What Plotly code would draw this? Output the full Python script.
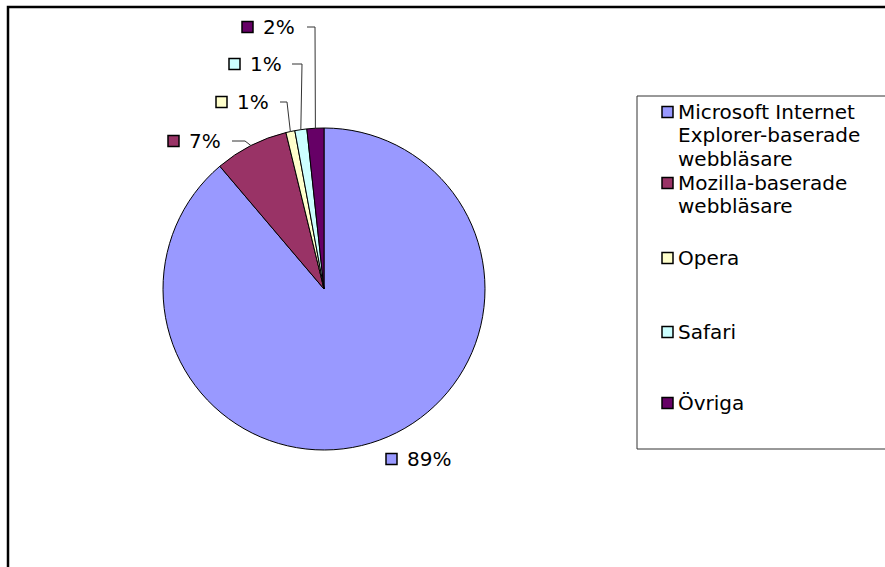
import math
import plotly.graph_objects as go

# ---- data ----
categories = ["Microsoft Internet Explorer-baserade webbläsare",
              "Mozilla-baserade webbläsare", "Opera", "Safari", "Övriga"]
legend_lines = [["Microsoft Internet", "Explorer-baserade", "webbläsare"],
                ["Mozilla-baserade", "webbläsare"],
                ["Opera"], ["Safari"], ["Övriga"]]
shares = [88.8, 7.4, 0.9, 1.2, 1.7]
colors = ["#9999FF", "#993366", "#FFFFCC", "#CCFFFF", "#660066"]

W, H = 885, 567
CX, CY, R = 324, 289, 161
FONT = "DejaVu Sans"
FS = 20


def px(x):
    return x / W


def py(y):
    return 1 - y / H


fig = go.Figure(go.Pie(
    labels=categories,
    values=shares,
    sort=False,
    direction="clockwise",
    rotation=0,
    textinfo="none",
    hoverinfo="label+percent",
    showlegend=False,
    marker=dict(colors=colors, line=dict(color="black", width=1)),
    domain=dict(x=[px(CX - R), px(CX + R)], y=[py(CY + R), py(CY - R)]),
))

total = sum(shares)
# label layout: (text-left x, center y, elbow start x, elbow end x) ; None = no leader
label_pos = [
    (405, 459, None, None),
    (187, 141, 232, 245),
    (235, 102, 280, 287),
    (248, 64, 292, 302),
    (261, 27, 307, 315),
]

shapes = []
annotations = []
cum = 0.0
for i, v in enumerate(shares):
    mid = (cum + v / 2) / total * 2 * math.pi
    cum += v
    ex = CX + R * math.sin(mid)
    ey = CY - R * math.cos(mid)
    tx, ty, e0, e1 = label_pos[i]
    pct = round(v / total * 100)
    annotations.append(dict(
        x=px(tx), y=py(ty), xref="paper", yref="paper", xanchor="left",
        yanchor="middle", showarrow=False, text=f"{pct}%",
        font=dict(family=FONT, size=FS, color="black")))
    sx = tx - 19
    shapes.append(dict(type="rect", xref="paper", yref="paper",
                       x0=px(sx), x1=px(sx + 11), y0=py(ty - 5.5), y1=py(ty + 5.5),
                       fillcolor=colors[i], line=dict(color="black", width=1.5)))
    if e0 is not None:
        shapes.append(dict(type="path", xref="paper", yref="paper",
                           path=f"M {px(e0)},{py(ty)} L {px(e1)},{py(ty)} L {px(ex)},{py(ey)}",
                           line=dict(color="#333333", width=1)))

# legend (drawn as box + keys + text)
LEG_X0, LEG_Y0, LEG_Y1 = 637, 96, 449
shapes.append(dict(type="rect", xref="paper", yref="paper",
                   x0=px(LEG_X0), x1=px(W + 20), y0=py(LEG_Y1), y1=py(LEG_Y0),
                   line=dict(color="#333333", width=1), fillcolor="white", layer="below"))
entry_y = [112, 183, 258, 332, 403]
LINE_H = 23.4
for i, lines in enumerate(legend_lines):
    y0 = entry_y[i]
    shapes.append(dict(type="rect", xref="paper", yref="paper",
                       x0=px(662), x1=px(673), y0=py(y0 + 5.5), y1=py(y0 - 5.5),
                       fillcolor=colors[i], line=dict(color="black", width=1.5)))
    for k, line in enumerate(lines):
        annotations.append(dict(
            x=px(676), y=py(y0 + k * LINE_H), xref="paper", yref="paper",
            xanchor="left", yanchor="middle", showarrow=False, text=line,
            font=dict(family=FONT, size=FS, color="black")))

# outer chart frame
shapes.append(dict(type="rect", xref="paper", yref="paper",
                   x0=px(8), x1=px(W + 20), y0=py(H + 20), y1=py(7),
                   line=dict(color="black", width=2.5), fillcolor="rgba(0,0,0,0)"))

fig.update_layout(
    width=W, height=H,
    margin=dict(l=0, r=0, t=0, b=0),
    paper_bgcolor="white", plot_bgcolor="white",
    font=dict(family=FONT, size=FS, color="black"),
    showlegend=False,
    shapes=shapes,
    annotations=annotations,
)

fig.write_html("out.html", config={"displayModeBar": False},
               post_script="document.body.style.margin='0px';document.body.style.overflow='hidden';")
